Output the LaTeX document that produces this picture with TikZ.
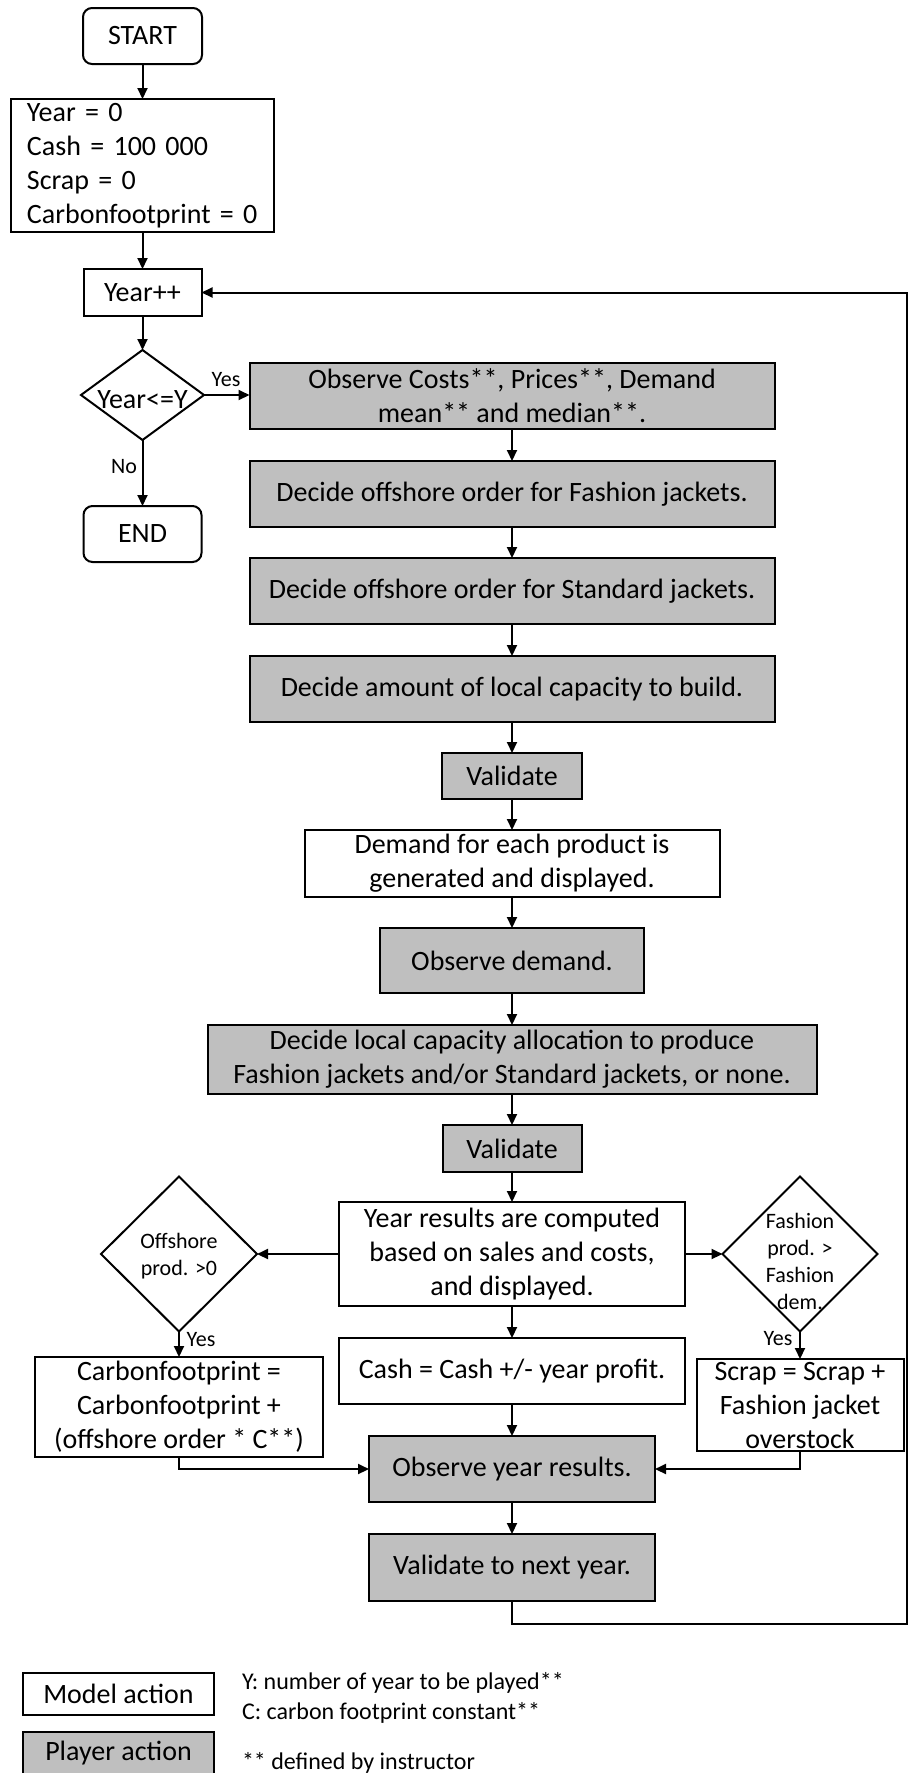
\documentclass[tikz,border=0pt]{standalone}
\usepackage{fontspec}
\setmainfont{Carlito}
\usetikzlibrary{arrows.meta,shapes.geometric}
\definecolor{pgray}{RGB}{191,191,191}
\begin{document}
\begin{tikzpicture}[x=1pt,y=-1pt,line width=2pt,
  >={Triangle[length=11pt,width=10pt]},
  mbox/.style={draw,line width=2pt,fill=white,inner sep=0pt,outer sep=0pt,align=center,font=\fontsize{28}{34}\selectfont},
  pbox/.style={mbox,fill=pgray},
  term/.style={mbox,rounded corners=9pt},
  dia/.style={draw,diamond,inner sep=0pt,outer sep=0pt,line width=2pt},
  dtext/.style={inner sep=0pt,align=center,font=\fontsize{22}{27}\selectfont},
  lbl/.style={inner sep=0pt,font=\fontsize{22}{27}\selectfont},
  legtext/.style={inner sep=0pt,anchor=west,font=\fontsize{24}{29}\selectfont},
  conn/.style={->,line width=2pt}]
\fill[white] (0,0) rectangle (909,1773);
\useasboundingbox (0,0) rectangle (909,1773);

% left column
\node[term,minimum width=119pt,minimum height=56pt] (start) at (142.5,36) {START};
\node[mbox,align=left,text width=231pt,inner xsep=16pt,minimum height=133pt] (init) at (142.5,165.5)
  {Year = 0\\Cash = 100 000\\Scrap = 0\\Carbonfootprint = 0};
\node[mbox,minimum width=118pt,minimum height=47pt] (yinc) at (142.5,292.5) {Year++};
\node[dia,minimum width=123pt,minimum height=90pt] (ydia) at (142.5,395) {};
\node[inner sep=0pt,font=\fontsize{28}{34}\selectfont] (ydiat) at (142.5,400) {Year<=Y};
\node[term,minimum width=118pt,minimum height=56pt] (end) at (142.5,534) {END};

% main column
\node[pbox,minimum width=525pt,minimum height=66pt] (obs) at (512,396) {Observe Costs**, Prices**, Demand\\mean** and median**.};
\node[pbox,minimum width=525pt,minimum height=66pt] (fash) at (512,494) {Decide offshore order for Fashion jackets.};
\node[pbox,minimum width=525pt,minimum height=66pt] (std) at (512,591) {Decide offshore order for Standard jackets.};
\node[pbox,minimum width=525pt,minimum height=66pt] (amt) at (512,689) {Decide amount of local capacity to build.};
\node[pbox,minimum width=140pt,minimum height=46pt] (val1) at (512,776) {Validate};
\node[mbox,minimum width=415pt,minimum height=67pt] (dem) at (512,863.5) {Demand for each product is\\generated and displayed.};
\node[pbox,minimum width=264pt,minimum height=65pt] (obsd) at (512,960.5) {Observe demand.};
\node[pbox,minimum width=609pt,minimum height=69pt] (local) at (512,1059.5) {Decide local capacity allocation to produce\\Fashion jackets and/or Standard jackets, or none.};
\node[pbox,minimum width=139pt,minimum height=47pt] (val2) at (512,1148.5) {Validate};
\node[mbox,minimum width=346pt,minimum height=104pt] (yres) at (512,1254) {Year results are computed\\based on sales and costs,\\and displayed.};
\node[mbox,minimum width=346pt,minimum height=66pt] (cash) at (512,1371) {Cash = Cash +/- year profit.};
\node[pbox,minimum width=286pt,minimum height=66pt] (obsy) at (512,1469) {Observe year results.};
\node[pbox,minimum width=286pt,minimum height=67pt] (valn) at (512,1567.5) {Validate to next year.};

% side decisions
\node[dia,minimum width=156pt,minimum height=155pt] (offdia) at (179,1254) {};
\node[dtext] (offt) at (179,1256) {Offshore\\prod. >0};
\node[dia,minimum width=155pt,minimum height=155pt] (fdia) at (800,1254) {};
\node[dtext] (ft) at (800,1261) {Fashion\\prod. >\\Fashion\\dem.};
\node[mbox,minimum width=288pt,minimum height=100pt] (carb) at (179,1407) {Carbonfootprint =\\Carbonfootprint +\\(offshore order * C**)};
\node[mbox,minimum width=207pt,minimum height=92pt] (scrap) at (800,1405) {Scrap = Scrap +\\Fashion jacket\\overstock};

% labels
\node[lbl] (yes1) at (226,380) {Yes};
\node[lbl] (no1) at (124,467) {No};
\node[lbl] (yes2) at (201,1340) {Yes};
\node[lbl] (yes3) at (778,1339) {Yes};

% connectors
\draw[conn] (start) -- (init);
\draw[conn] (init) -- (yinc);
\draw[conn] (yinc) -- (ydia);
\draw[conn] (ydia.east) -- (obs.west |- ydia.east);
\draw[conn] (ydia.south) -- (end.north);
\draw[conn] (obs) -- (fash);
\draw[conn] (fash) -- (std);
\draw[conn] (std) -- (amt);
\draw[conn] (amt) -- (val1);
\draw[conn] (val1) -- (dem);
\draw[conn] (dem) -- (obsd);
\draw[conn] (obsd) -- (local);
\draw[conn] (local) -- (val2);
\draw[conn] (val2) -- (yres);
\draw[conn] (yres) -- (cash);
\draw[conn] (cash) -- (obsy);
\draw[conn] (obsy) -- (valn);
\draw[conn] (yres.west) -- (offdia.east);
\draw[conn] (yres.east) -- (fdia.west);
\draw[conn] (offdia.south) -- (carb.north);
\draw[conn] (fdia.south) -- (scrap.north);
\draw[conn] (carb.south) |- (obsy.west);
\draw[conn] (scrap.south) |- (obsy.east);
\coordinate (lr) at (907,1624);
\coordinate (ur) at (907,292.5);
\draw[conn] (valn.south) |- (lr) -- (ur) -- (yinc.east);

% legend
\node[mbox,minimum width=191pt,minimum height=42pt] (lmodel) at (118.5,1694) {Model action};
\node[pbox,minimum width=191pt,minimum height=42pt] (lplayer) at (118.5,1753) {Player action};
\node[legtext] (ly) at (241,1683) {Y: number of year to be played**};
\node[legtext] (lc) at (241,1713) {C: carbon footprint constant**};
\node[legtext] (ld) at (241,1763) {** defined by instructor};
\end{tikzpicture}
\end{document}
